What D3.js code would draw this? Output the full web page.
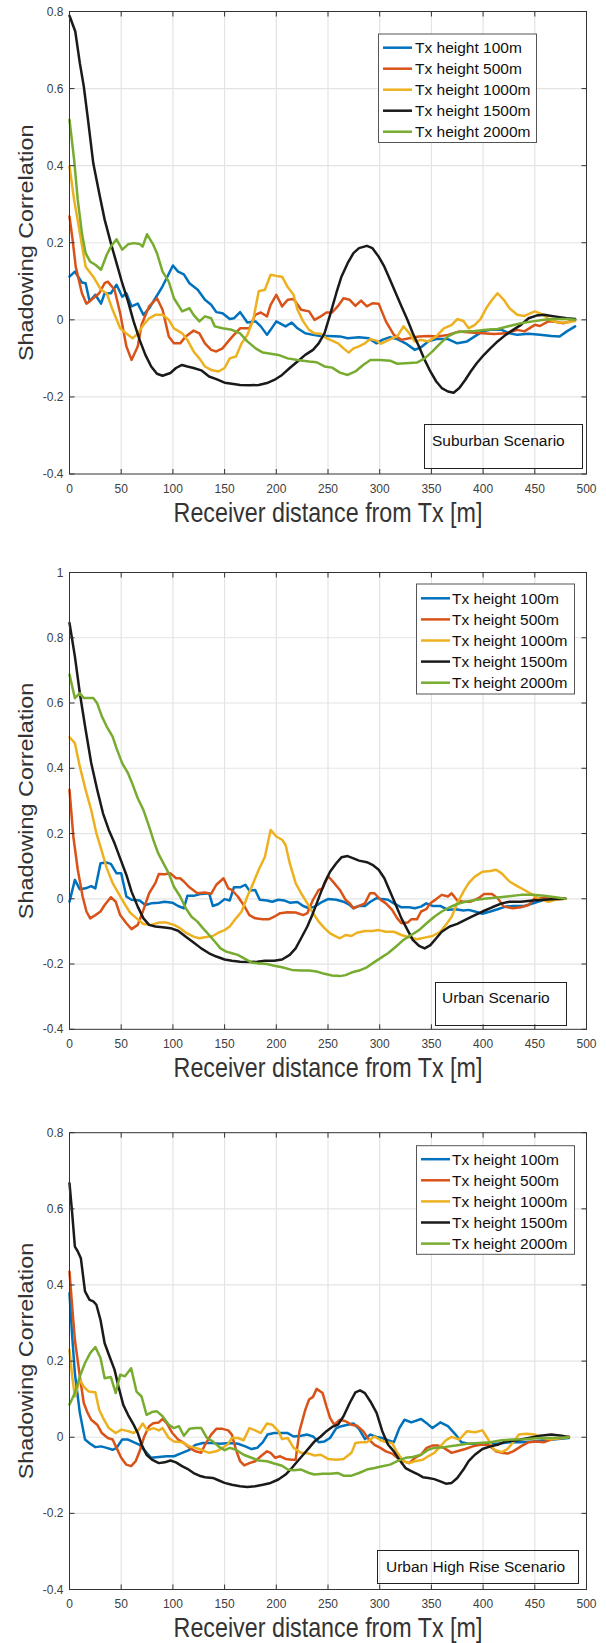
<!DOCTYPE html>
<html><head><meta charset="utf-8">
<script src="https://cdn.jsdelivr.net/npm/d3@7"></script>
<style>body{margin:0;background:#fff} svg{display:block} text{font-family:"Liberation Sans",Arial,sans-serif}</style>
</head><body><svg id="c" width="606" height="1643"></svg>
<script>
const seriesNames = ["Tx height 100m","Tx height 500m","Tx height 1000m","Tx height 1500m","Tx height 2000m"];
const scenarioLabels = ["Suburban Scenario","Urban Scenario","Urban High Rise Scenario"];
const xTicks = [0,50,100,150,200,250,300,350,400,450,500];
const yTicksA = [-0.4,-0.2,0,0.2,0.4,0.6,0.8];
const yTicksB = [-0.4,-0.2,0,0.2,0.4,0.6,0.8,1];
const xLabel = "Receiver distance from Tx [m]";
const yLabel = "Shadowing Correlation";

// Suburban
const sub100 = [[0,.112],[5.2,.125],[12,.097],[15.6,.095],[19.4,.048],[25,.065],[30.5,.042],[34,.069],[40,.069],[45.5,.091],[51,.06],[55,.069],[60,.035],[66,.042],[71.5,.013],[77,.03],[83,.056],[90,.087],[100,.141],[105,.125],[110.6,.118],[116,.095],[124,.078],[131,.052],[137,.039],[142,.02],[148,.017],[155,.002],[159,.004],[165,.02],[172,-.007],[180,-.004],[185,-.017],[191,-.039],[194.5,-.026],[200,-.004],[209,-.017],[215,-.007],[220.5,-.022],[228,-.035],[235.5,-.039],[243,-.042],[250,-.042],[261.5,-.043],[269,-.048],[280,-.045],[289.5,-.048],[297,-.061],[302.5,-.052],[310,-.045],[317,-.05],[325,-.061],[334,-.078],[340,-.071],[347,-.056],[354.7,-.05],[366,-.05],[375,-.061],[384.5,-.056],[392,-.043],[399.4,-.03],[407,-.026],[418,-.026],[425.5,-.035],[433,-.039],[444,-.036],[455,-.039],[466,-.042],[474,-.043],[481,-.03],[489,-.017]];
const sub500 = [[0,.268],[3,.208],[6,.138],[12,.069],[16.4,.042],[23,.056],[28.7,.069],[34,.095],[37,.099],[43.6,.078],[49,.017],[55,-.069],[60,-.104],[66,-.069],[69.7,-.013],[77,.035],[84.6,.056],[90,.026],[96,-.043],[101,-.061],[107,-.061],[112.5,-.043],[120,-.028],[125.6,-.035],[131,-.061],[137,-.078],[142,-.082],[148,-.074],[153.5,-.056],[159,-.039],[165,-.022],[174,-.022],[179.6,.013],[185,.019],[191,.009],[194.5,.039],[200,.065],[205.6,.035],[211,.052],[216.7,.054],[224,.026],[231.7,.022],[237,0],[243,.009],[248.5,.019],[254,.019],[259.7,.036],[265,.056],[271,.052],[276.5,.036],[282,.05],[287.6,.035],[293,.043],[299,.042],[306,-.004],[313.7,-.039],[321,-.052],[328.6,-.048],[338,-.043],[347,-.042],[356,-.043],[366,-.039],[377,-.03],[388,-.033],[399.4,-.035],[410.6,-.037],[421.8,-.035],[433,-.026],[440,-.03],[450,-.013],[455,-.016],[463,-.004],[470,-.005],[477.6,-.009],[489,0]];
const sub1000 = [[0,.398],[4.5,.311],[10,.225],[15.6,.138],[23,.112],[30.5,.078],[36,.069],[41.7,.026],[49,-.022],[56.6,-.039],[61,-.048],[66,-.036],[71.5,-.013],[77,.004],[83,.013],[90,.013],[96,0],[101,-.022],[109,-.035],[114,-.052],[120,-.082],[125.6,-.1],[131,-.121],[137,-.13],[144,-.134],[150,-.125],[155,-.1],[161,-.095],[166.5,-.061],[172,-.039],[177.7,0],[183,.074],[189,.078],[194.5,.117],[200,.114],[205.6,.112],[211,.085],[216.7,.065],[220.5,.026],[226,-.004],[231.7,-.026],[237,-.035],[243,-.036],[248.5,-.048],[254,-.054],[259.7,-.061],[265,-.074],[270,-.085],[274.6,-.074],[280,-.069],[285.7,-.061],[291,-.05],[297,-.054],[300.7,-.062],[306,-.056],[312,-.048],[317,-.043],[323,-.017],[328.6,-.035],[334,-.056],[340,-.052],[347,-.056],[354.7,-.043],[362,-.022],[369.7,-.013],[375,.002],[381,-.003],[386,-.022],[392,-.013],[397.5,.002],[403,.03],[408.7,.052],[414,.069],[420,.052],[425.5,.03],[433,.013],[440,.01],[450,.022],[457,.015],[464.6,0],[472,-.007],[481,-.007],[489,-.003]];
const sub1500 = [[0,.789],[5.6,.748],[10,.666],[13.8,.606],[17.5,.528],[23,.406],[28.7,.329],[34,.26],[40,.199],[45.5,.147],[51,.095],[56.6,.048],[62,-.004],[67.8,-.052],[73.4,-.091],[79,-.121],[84.6,-.14],[90,-.145],[97.6,-.138],[103,-.125],[108.8,-.117],[114,-.121],[120,-.125],[127.4,-.131],[135,-.147],[142,-.154],[150,-.163],[157,-.166],[165,-.169],[174,-.17],[183,-.169],[191,-.164],[198,-.156],[205.6,-.143],[213,-.125],[220.5,-.108],[228,-.091],[235.5,-.078],[241,-.061],[246.6,-.035],[252,.013],[258,.069],[263,.112],[269,.147],[274.6,.173],[280,.186],[287.6,.192],[293,.186],[299,.164],[304.5,.138],[310,.104],[315.6,.069],[321,.035],[326.8,0],[332,-.035],[338,-.069],[343.5,-.104],[349,-.134],[354.7,-.16],[360,-.177],[366,-.186],[371.5,-.189],[377,-.177],[382.7,-.156],[388,-.134],[394,-.112],[399.4,-.095],[407,-.074],[414,-.056],[421.8,-.039],[429,-.026],[436.6,-.013],[444,.004],[451.6,.011],[459,.013],[466,.01],[474,.007],[481,.004],[489,.002]];
const sub2000 = [[0,.519],[4.5,.415],[8,.311],[12,.225],[15.6,.173],[20,.151],[25,.143],[30.5,.13],[36,.169],[40,.19],[45.5,.209],[51,.182],[56.6,.196],[62,.199],[67.8,.197],[70.7,.19],[75,.222],[81,.195],[84.6,.173],[90,.125],[96,.099],[101,.056],[109,.022],[116,.03],[120,.013],[125.6,-.004],[131,.009],[137,.004],[140.5,-.017],[148,-.022],[157,-.026],[165,-.035],[172,-.056],[180,-.074],[187,-.085],[194.5,-.088],[202,-.091],[211,-.1],[220.5,-.104],[231.7,-.108],[239,-.11],[246.6,-.121],[254,-.124],[261.5,-.137],[269,-.143],[276.5,-.134],[284,-.117],[291,-.104],[300.7,-.104],[310,-.106],[317,-.114],[328.6,-.112],[336,-.111],[343.5,-.1],[351,-.082],[358.6,-.061],[366,-.043],[373.4,-.033],[381,-.03],[392,-.029],[403,-.026],[414,-.024],[425.5,-.016],[436.6,-.009],[448,-.004],[459,0],[470,.002],[481,.002],[489,0]];

// Urban
const urb100 = [[0,-.009],[5.2,.058],[10,.029],[15.6,.032],[21,.039],[25,.032],[30,.109],[36,.111],[40,.107],[45.5,.078],[50,.078],[55,.007],[60,-.003],[67.8,-.005],[73.4,-.019],[79,-.014],[86.4,-.012],[92,-.009],[99.5,-.012],[105,-.022],[110.6,-.029],[114,.009],[120,.009],[127.4,.015],[135,.017],[138.6,-.022],[144,-.016],[150,-.001],[155,-.005],[159,.035],[165,.035],[170,.043],[174,.025],[179.6,.027],[184,-.003],[191,-.005],[196,-.009],[202,-.003],[207.5,-.005],[213,-.012],[220.5,-.01],[226,-.022],[231.7,-.029],[237,-.024],[243,-.012],[250,-.001],[258,-.003],[265,-.009],[271,-.019],[274.6,-.029],[280,-.022],[285.7,-.022],[291,-.009],[297,.002],[302.5,-.001],[308,-.003],[313.7,-.014],[321,-.026],[328.6,-.026],[334,-.029],[340,-.024],[345,-.014],[351,-.022],[358.6,-.022],[366,-.034],[373.4,-.032],[381,-.036],[386,-.034],[392,-.039],[399.4,-.046],[407,-.039],[414,-.032],[421.8,-.024],[429,-.022],[440,-.022],[450,-.012],[459,-.003],[470,.002],[479.5,0]];
const urb500 = [[0,.334],[3.7,.191],[8,.089],[12.7,.007],[16.4,-.039],[20,-.06],[25,-.05],[30,-.039],[34,-.019],[40,.005],[44.7,-.009],[49,-.05],[55,-.075],[60,-.093],[66,-.08],[71.5,-.034],[77,.017],[83,.048],[86.4,.076],[92,.075],[97.6,.078],[103,.063],[107,.063],[110.6,.053],[116,.035],[123.7,.017],[131,.019],[137,.015],[142,.043],[149,.063],[153.5,.032],[157,.027],[162.8,.007],[168.4,-.019],[174,-.05],[179.6,-.06],[187,-.063],[192.6,-.063],[198,-.055],[203.8,-.044],[211,-.041],[218.7,-.042],[226,-.05],[230,-.044],[235.5,-.003],[241,.027],[244.8,.032],[250,.07],[256,.048],[261.5,.027],[267,-.003],[271,-.014],[274.6,-.029],[280,-.022],[285.7,-.014],[290.6,.017],[295,.017],[300.7,-.003],[306,-.014],[312,-.034],[317,-.06],[321,-.075],[327,-.073],[330.5,-.063],[336,-.063],[340,-.039],[345,-.032],[349,-.014],[354.7,-.001],[360,.012],[366,.007],[369.6,.017],[375,-.005],[381,-.009],[388,-.009],[395.5,.002],[401,.015],[408.7,.015],[414,.002],[420,-.024],[429,-.029],[436.6,-.026],[444,-.019],[450,.002],[459,.002],[470,-.001],[479.5,0]];
const urb1000 = [[0,.495],[5.2,.477],[10,.405],[15.6,.334],[21,.272],[26,.201],[31.3,.145],[36,.094],[41.7,.048],[47.3,.017],[53,-.014],[58.5,-.042],[66,-.063],[71.5,-.077],[79,-.08],[86.4,-.073],[94,-.073],[101,-.08],[107,-.09],[112.5,-.104],[120,-.116],[125.6,-.121],[131,-.118],[138.6,-.114],[144,-.104],[150,-.096],[155,-.085],[161,-.06],[166.5,-.039],[172,.007],[177.7,.048],[183,.089],[189,.129],[194.5,.211],[200,.191],[205.6,.181],[209,.165],[213,.109],[218.7,.048],[224,.017],[230,-.014],[235.5,-.044],[241,-.07],[246.6,-.09],[252,-.106],[258,-.116],[261.5,-.121],[267,-.111],[272.7,-.114],[278,-.104],[285.7,-.099],[293,-.099],[299,-.096],[306,-.101],[313.7,-.101],[321,-.111],[328.6,-.118],[336,-.124],[343.5,-.119],[351,-.114],[358.6,-.101],[364,-.08],[369.6,-.055],[375,-.014],[381,.022],[386,.048],[392,.068],[399.4,.083],[407,.085],[412.5,.089],[418,.078],[425.5,.053],[433,.039],[440,.027],[448,.012],[455,-.001],[463,-.009],[470,-.003],[479.5,0]];
const urb1500 = [[0,.845],[5.2,.743],[10,.63],[15.6,.518],[21,.416],[26.8,.334],[32.4,.262],[38,.211],[43.6,.17],[49,.124],[55,.073],[60,.022],[66,-.024],[71.5,-.06],[77,-.08],[83,-.085],[90,-.087],[97.6,-.09],[105,-.098],[112.5,-.116],[120,-.134],[127.4,-.152],[135,-.167],[142,-.177],[150,-.186],[157,-.19],[165,-.193],[174,-.194],[181.5,-.193],[189,-.19],[198,-.19],[205.6,-.186],[213,-.172],[218.7,-.152],[224,-.121],[230,-.085],[235.5,-.044],[241,.002],[246.6,.048],[252,.083],[258,.109],[263,.127],[269,.131],[274.6,.124],[280,.117],[287.6,.112],[293,.104],[299,.089],[304.5,.063],[310,.022],[315.6,-.019],[321,-.06],[327,-.096],[332,-.126],[338,-.144],[343.5,-.152],[349,-.142],[354.7,-.121],[360,-.101],[367.7,-.085],[375,-.077],[382.7,-.065],[390,-.053],[399.4,-.039],[408.7,-.026],[418,-.014],[425.5,-.009],[436.6,-.009],[448,-.005],[459,-.003],[470,-.001],[479.5,0]];
const urb2000 = [[0,.687],[5.2,.615],[10,.63],[13.8,.615],[18.6,.615],[23,.615],[26.8,.599],[31.3,.559],[36,.528],[41.7,.497],[45.5,.461],[51,.415],[56.6,.385],[60,.359],[66,.308],[71.5,.272],[77,.221],[81,.181],[85.7,.14],[90,.114],[96,.078],[101,.037],[107,.007],[112.5,-.029],[118,-.055],[123.7,-.07],[129,-.09],[135,-.111],[140.5,-.131],[146,-.152],[151.6,-.162],[157,-.167],[162.8,-.172],[168.4,-.182],[175.9,-.195],[183,-.198],[191,-.2],[198,-.205],[205.6,-.21],[215,-.218],[224,-.22],[231.7,-.22],[239,-.223],[246.6,-.23],[254,-.235],[261.5,-.237],[267,-.234],[272.7,-.226],[280,-.22],[287.6,-.21],[293,-.198],[300.7,-.182],[308,-.167],[315.6,-.147],[323,-.126],[330.5,-.111],[338,-.096],[345.4,-.075],[352.8,-.055],[360,-.039],[367.7,-.026],[375,-.016],[382.7,-.009],[392,-.004],[403,.001],[414,.004],[425.5,.008],[436.6,.012],[448,.012],[459,.009],[470,.005],[479.5,0]];

// Urban high rise
const hr100 = [[0,.378],[2.6,.265],[5.2,.168],[10,.064],[15,-.006],[20,-.017],[25,-.026],[30.5,-.024],[36,-.028],[41.7,-.033],[45.5,-.028],[51,-.006],[56.6,-.006],[62,-.013],[67.8,-.02],[73.4,-.037],[79,-.054],[86.4,-.052],[94,-.05],[101,-.05],[109,-.041],[116,-.033],[122,-.02],[129,-.015],[137,-.015],[146,-.017],[155,-.015],[163,-.017],[170,-.024],[176,-.031],[181.5,-.028],[187,-.013],[191.5,.007],[198,.011],[205.6,.011],[211,.011],[216.8,.002],[224,.004],[230,.007],[235.5,.002],[241,-.013],[246.6,-.011],[252,-.002],[258,.024],[263,.029],[269,.033],[274.6,.036],[280,.022],[285.7,-.005],[291,.007],[297,.001],[302.5,-.002],[308,-.008],[313.7,-.013],[319,.024],[324,.046],[330.5,.039],[340,.048],[345.4,.037],[351,.024],[358.6,.039],[366,.029],[373.4,.007],[379,-.013],[386,-.017],[395.5,-.017],[403,-.017],[414,-.017],[425.5,-.013],[436.6,-.013],[448,-.011],[459,-.008],[470,-.005],[483,-.002]];
const hr500 = [[0,.435],[2.6,.343],[5.2,.256],[10,.16],[13.8,.09],[17.5,.064],[21,.046],[26.8,.033],[31.3,.011],[37,-.002],[41.7,-.006],[45.5,-.028],[50,-.054],[55,-.072],[59.6,-.076],[64,-.063],[67.8,-.037],[72.3,.002],[77,.029],[81,.037],[86.4,.039],[90,.048],[94,.037],[99.5,.011],[105,-.006],[110.6,-.015],[116,-.028],[122,-.037],[127.4,-.041],[131,-.02],[137,.007],[142,.022],[148,.022],[153.5,.018],[157,.007],[161,-.033],[165,-.063],[169,-.074],[174,-.068],[179.6,-.063],[185,-.05],[191,-.037],[194.5,-.041],[199,-.054],[203.8,-.05],[209,-.057],[215,-.059],[218.7,-.059],[222.4,.016],[228,.072],[231.7,.099],[235.5,.106],[239,.127],[244.8,.116],[248.5,.081],[252,.051],[256,.033],[261.5,.046],[267,.042],[272.7,.033],[278,.03],[284,.016],[289.5,-.006],[295,-.02],[300.7,-.028],[306,-.037],[312,-.043],[317,-.054],[323,-.063],[328.6,-.068],[334,-.054],[340,-.046],[345.4,-.028],[351,-.022],[356.6,-.022],[362,-.028],[369.6,-.041],[375,-.037],[382.7,-.031],[390,-.024],[397.5,-.02],[405,-.02],[412.5,-.037],[418,-.041],[423.6,-.043],[429,-.037],[436.6,-.024],[444,-.013],[451.6,-.011],[459,-.013],[466,-.006],[476,-.002],[483,.002]];
const hr1000 = [[0,.23],[2.6,.16],[5.2,.107],[10,.151],[13.8,.133],[18.6,.12],[25,.118],[28.7,.072],[32.4,.051],[38,.024],[44.7,.011],[50.3,.02],[56.6,.016],[62,.011],[67,.02],[70.8,.036],[75.3,.018],[81,.024],[86.4,.018],[90,.024],[96,-.002],[101,-.011],[109,-.013],[116,-.024],[122,-.028],[127.4,-.033],[135,-.041],[142,-.037],[148,-.028],[153.5,-.017],[157,-.002],[163,-.002],[168.4,-.008],[174,.024],[179.6,.018],[185,.011],[191,.036],[196,.033],[202,.016],[205.6,-.005],[211,-.002],[216.8,-.028],[224,-.041],[231.7,-.043],[237,-.048],[243,-.046],[250,-.057],[258,-.059],[265,-.057],[272.7,-.041],[276.5,-.015],[282,-.013],[287.6,-.013],[295,.002],[300.7,-.008],[306,-.013],[312,-.015],[317,-.041],[323,-.063],[328.6,-.068],[334,-.063],[341.7,-.059],[347,-.05],[352.8,-.041],[358.6,-.024],[364,-.008],[369.6,.001],[377,-.006],[384.5,.016],[392,.013],[399.4,.018],[405,-.006],[410.6,-.033],[418,-.039],[423.6,-.031],[429,-.013],[434.7,.007],[442,.009],[450,.007],[457,-.002],[466,-.005],[476,-.002],[483,0]];
const hr1500 = [[0,.667],[2.6,.588],[5.2,.501],[8,.488],[11,.47],[15,.383],[19.4,.361],[23,.357],[26,.348],[30,.308],[34,.247],[38.7,.212],[43.6,.177],[47.3,.134],[52,.085],[56.6,.059],[62,.033],[66,.011],[69.7,-.019],[74.5,-.046],[79.7,-.059],[86.4,-.068],[92,-.066],[97.6,-.061],[103,-.066],[108.8,-.076],[114,-.083],[120,-.094],[125.6,-.101],[131,-.105],[138.6,-.107],[144,-.113],[150,-.12],[157,-.125],[165,-.129],[172,-.131],[179.6,-.129],[187,-.125],[194.5,-.12],[202,-.111],[209,-.098],[215,-.081],[220.5,-.063],[226,-.046],[231.7,-.028],[237,-.011],[243,.002],[248.5,.016],[254,.027],[259.7,.033],[265,.055],[271,.09],[276.5,.118],[281,.123],[285.7,.116],[291,.094],[297,.064],[302.5,.016],[308,-.019],[313.7,-.037],[319,-.059],[325,-.081],[330.5,-.089],[336,-.096],[341.7,-.105],[347,-.107],[352.8,-.11],[358.6,-.116],[364,-.122],[369.6,-.12],[375,-.107],[381,-.085],[386,-.063],[392,-.046],[399.4,-.031],[407,-.024],[414,-.02],[421.8,-.011],[433,-.008],[444,-.002],[455,.004],[466,.007],[476,.004],[483,0]];
const hr2000 = [[0,.086],[5.2,.116],[10,.16],[15,.195],[20,.221],[25,.237],[30,.208],[34,.155],[40,.158],[44.7,.116],[49,.164],[53.6,.16],[59.6,.181],[64.8,.12],[69.7,.107],[74.5,.059],[79.7,.066],[84.6,.068],[90,.055],[96,.033],[101,.024],[105.8,.029],[110.6,.004],[116,.022],[122,.024],[127.4,.024],[133,-.002],[138.6,-.011],[144,-.024],[150,-.034],[155,-.028],[161,-.033],[168.4,-.046],[176,-.054],[183,-.061],[191,-.063],[198,-.069],[205.6,-.075],[211,-.085],[216.8,-.087],[224,-.085],[231.7,-.094],[237,-.098],[244.8,-.096],[252,-.096],[259.7,-.094],[265,-.101],[272.7,-.101],[280,-.094],[287.6,-.085],[295,-.081],[302.5,-.076],[310,-.072],[317,-.063],[325,-.054],[332,-.052],[340,-.046],[347,-.033],[352.8,-.028],[362,-.026],[373.4,-.022],[384.5,-.017],[395.5,-.015],[407,-.013],[418,-.008],[429,-.006],[440,-.005],[455,-.002],[470,-.002],[483,0]];

const colors = ["#0072BD","#D95319","#EDB120","#1a1a1a","#77AC30"];
const L = 69.5, R = 586.5;
const panels = [
  {top:11.5,bottom:474,dom:[-0.4,0.8],ticks:yTicksA,series:[sub100,sub500,sub1000,sub1500,sub2000],
   leg:{x0:378.5,x1:536.5,y0:34,y1:142.5,lx0:383,lx1:412,tx:415,r0:47.7,dr:21},
   box:{x0:424.5,x1:582.5,y0:424.5,y1:468.5,tx:432,ty:440.7},label:scenarioLabels[0]},
  {top:572.5,bottom:1029.3,dom:[-0.4,1],ticks:yTicksB,series:[urb100,urb500,urb1000,urb1500,urb2000],
   leg:{x0:416.5,x1:574.5,y0:584,y1:694,lx0:421,lx1:450,tx:452,r0:598.3,dr:21.1},
   box:{x0:435.5,x1:566.5,y0:982.5,y1:1025.5,tx:442,ty:997.7},label:scenarioLabels[1]},
  {top:1132.7,bottom:1589.5,dom:[-0.4,0.8],ticks:yTicksA,series:[hr100,hr500,hr1000,hr1500,hr2000],
   leg:{x0:416.5,x1:574.5,y0:1145.7,y1:1254.3,lx0:421,lx1:450,tx:452,r0:1159.2,dr:21.1},
   box:{x0:377.5,x1:578.5,y0:1550.5,y1:1583.5,tx:386,ty:1566.7},label:scenarioLabels[2]}
];

const svg = d3.select("#c");
const fmt = d => d === 0 ? "0" : String(+d.toFixed(1));
const axisCol = "#333333";

panels.forEach((p, pi) => {
  const x = d3.scaleLinear().domain([0,500]).range([L,R]);
  const y = d3.scaleLinear().domain(p.dom).range([p.bottom,p.top]);
  const g = svg.append("g");

  // grid
  g.append("g").selectAll("line").data(xTicks.slice(1,-1)).join("line")
    .attr("x1",d=>x(d)).attr("x2",d=>x(d)).attr("y1",p.top).attr("y2",p.bottom)
    .attr("stroke","#e4e4e4").attr("stroke-width",1.2);
  g.append("g").selectAll("line").data(p.ticks.slice(1,-1)).join("line")
    .attr("y1",d=>y(d)).attr("y2",d=>y(d)).attr("x1",L).attr("x2",R)
    .attr("stroke","#e4e4e4").attr("stroke-width",1.2);

  // lines
  const line = d3.line().x(d=>x(d[0])).y(d=>y(d[1]));
  p.series.forEach((s,i)=>{
    g.append("path").attr("d",line(s)).attr("fill","none")
      .attr("stroke",colors[i]).attr("stroke-width",2.5)
      .attr("stroke-linejoin","round").attr("stroke-linecap","round");
  });

  // axes box
  g.append("rect").attr("x",L).attr("y",p.top).attr("width",R-L).attr("height",p.bottom-p.top)
    .attr("fill","none").attr("stroke",axisCol).attr("stroke-width",1);

  // ticks (inward)
  const tl = 5;
  xTicks.forEach(t=>{
    g.append("line").attr("x1",x(t)).attr("x2",x(t)).attr("y1",p.bottom).attr("y2",p.bottom-tl).attr("stroke",axisCol);
    g.append("line").attr("x1",x(t)).attr("x2",x(t)).attr("y1",p.top).attr("y2",p.top+tl).attr("stroke",axisCol);
  });
  p.ticks.forEach(t=>{
    g.append("line").attr("y1",y(t)).attr("y2",y(t)).attr("x1",L).attr("x2",L+tl).attr("stroke",axisCol);
    g.append("line").attr("y1",y(t)).attr("y2",y(t)).attr("x1",R).attr("x2",R-tl).attr("stroke",axisCol);
  });

  // tick labels
  g.append("g").selectAll("text").data(xTicks).join("text")
    .attr("x",d=>x(d)).attr("y",p.bottom+14.5).attr("text-anchor","middle")
    .attr("dominant-baseline","central").attr("font-size",12).attr("fill","#404040").text(d=>d);
  g.append("g").selectAll("text").data(p.ticks).join("text")
    .attr("x",L-6).attr("y",d=>y(d)).attr("text-anchor","end")
    .attr("dominant-baseline","central").attr("font-size",12).attr("fill","#404040").text(fmt);

  // axis labels
  const cx = (L+R)/2, cy = (p.top+p.bottom)/2;
  g.append("text").attr("transform",`translate(${cx},${p.bottom+47.8}) scale(1,1.15)`)
    .attr("text-anchor","middle").attr("font-size",23.3).attr("fill","#333").text(xLabel);
  g.append("text").attr("transform",`translate(32.5,${cy}) scale(1,1.2) rotate(-90)`)
    .attr("text-anchor","middle").attr("font-size",19.5).attr("fill","#333").text(yLabel);

  // legend
  const lg = p.leg;
  g.append("rect").attr("x",lg.x0).attr("y",lg.y0).attr("width",lg.x1-lg.x0).attr("height",lg.y1-lg.y0)
    .attr("fill","#fff").attr("stroke","#555").attr("stroke-width",1);
  seriesNames.forEach((n,i)=>{
    const ry = lg.r0 + i*lg.dr;
    g.append("line").attr("x1",lg.lx0).attr("x2",lg.lx1).attr("y1",ry).attr("y2",ry)
      .attr("stroke",colors[i]).attr("stroke-width",2.5);
    g.append("text").attr("x",lg.tx).attr("y",ry).attr("dominant-baseline","central")
      .attr("font-size",15.5).attr("fill","#111").text(n);
  });

  // scenario box
  const b = p.box;
  g.append("rect").attr("x",b.x0).attr("y",b.y0).attr("width",b.x1-b.x0).attr("height",b.y1-b.y0)
    .attr("fill","none").attr("stroke","#222").attr("stroke-width",1);
  g.append("text").attr("x",b.tx).attr("y",b.ty).attr("dominant-baseline","central")
    .attr("font-size",15.5).attr("fill","#111").text(p.label);
});
</script></body></html>
